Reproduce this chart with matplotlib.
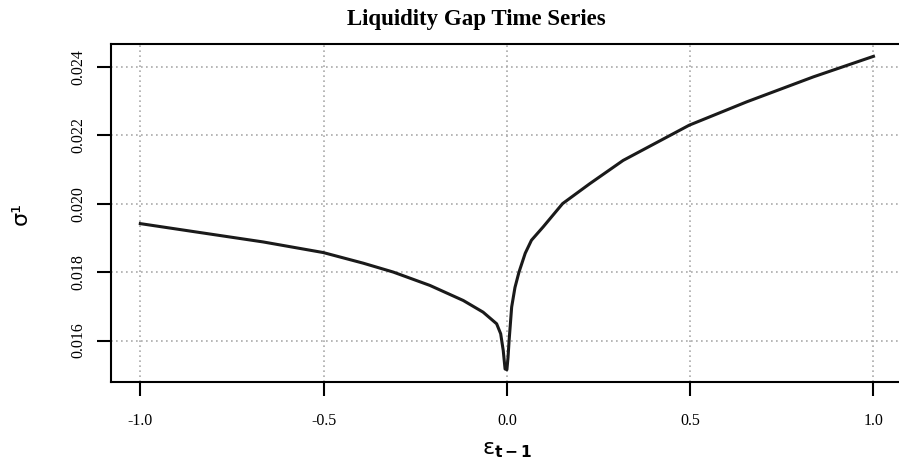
import matplotlib
matplotlib.use("Agg")
import matplotlib.pyplot as plt
import numpy as np

# curve
eps = [-1.0, -0.847, -0.665, -0.501, -0.392, -0.31, -0.21, -0.119, -0.065, -0.028,
       -0.017, -0.01, -0.005, 0.0, 0.003, 0.006, 0.013, 0.022, 0.033, 0.05, 0.067,
       0.099, 0.152, 0.226, 0.317, 0.445, 0.4975, 0.654, 0.836, 1.0]
sigma = [0.019415, 0.01917, 0.01888, 0.01857, 0.01826, 0.01800, 0.01761, 0.01717,
         0.01683, 0.01649, 0.01620, 0.01571, 0.01517, 0.01515, 0.01550, 0.01600,
         0.01698, 0.01755, 0.01800, 0.01855, 0.01893, 0.01932, 0.02000, 0.02058,
         0.02126, 0.02199, 0.02229, 0.02297, 0.02370, 0.02430]

xticks = [-1.0, -0.5, 0.0, 0.5, 1.0]
yticks = [0.016, 0.018, 0.020, 0.022, 0.024]

serif = 'Liberation Serif'

fig = plt.figure(figsize=(8.99, 4.66), dpi=100)
ax = fig.add_axes([111 / 899, 84 / 466, (902.8 - 111) / 899, 338 / 466])

ax.plot(eps, sigma, color='#1a1a1a', lw=2.2, solid_joinstyle='round')

ax.set_xlim(-1.08, 1.08)
ax.set_ylim(0.01479, 0.02466)
ax.set_xticks(xticks)
ax.set_xticklabels([f'{v:.1f}' for v in xticks], fontfamily=serif, fontsize=11.5)
ax.set_yticks(yticks)
ax.set_yticklabels([f'{v:.3f}' for v in yticks], fontfamily=serif, fontsize=11.5,
                   rotation=90, va='center')
ax.tick_params(direction='out', length=10, width=1.5, pad=12)
ax.tick_params(axis='y', pad=8)

ax.grid(True, linestyle=(0, (1, 2)), color='#aaaaaa', lw=1.2)
for s in ax.spines.values():
    s.set_linewidth(1.5)
ax.spines['right'].set_visible(False)

fig.text(476.5 / 899, 1 - 20 / 466, 'Liquidity Gap Time Series', fontfamily=serif,
         fontweight='bold', fontsize=16.5, ha='center', va='center')
ax.set_xlabel(r'ε$_{\mathbf{t-1}}$', fontsize=16, labelpad=8)
ax.set_ylabel('σ¹', fontsize=16, labelpad=28)

fig.savefig('out.png', dpi=100)
